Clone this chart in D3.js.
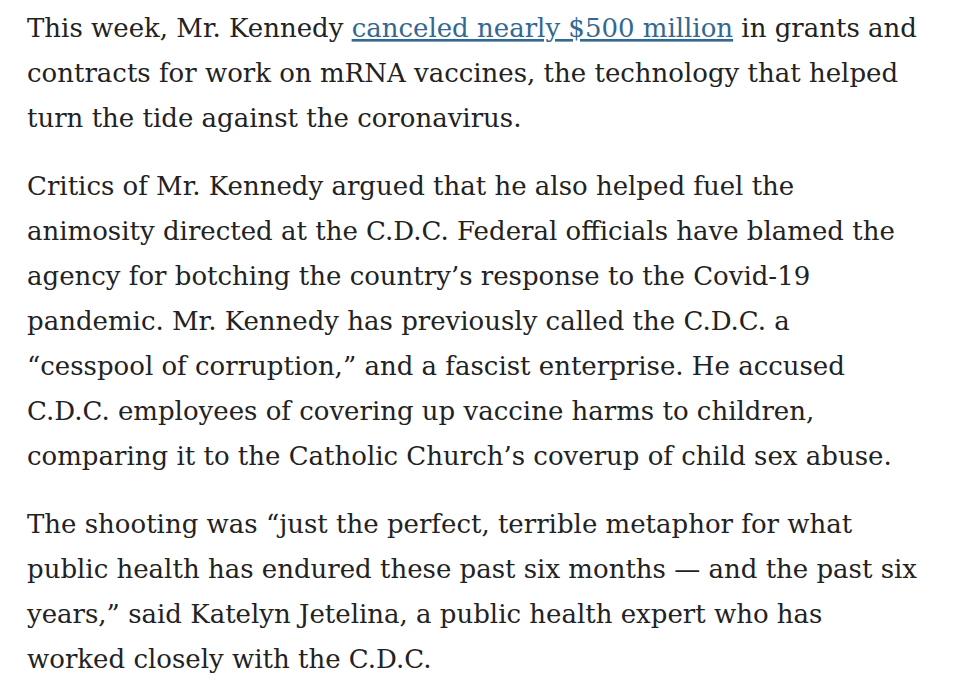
<!DOCTYPE html>
<html><head><meta charset="utf-8">
<script src="https://cdn.jsdelivr.net/npm/d3@7"></script>
<style>body{margin:0;background:#fff}</style>
</head><body>
<svg width="954" height="699"></svg>
<script>
// each line: array of [text, isLink]
const para1 = [
  [["This week, Mr. Kennedy ", false], ["canceled nearly $500 million", true], [" in grants and", false]],
  [["contracts for work on mRNA vaccines, the technology that helped", false]],
  [["turn the tide against the coronavirus.", false]]
];
const para2 = [
  [["Critics of Mr. Kennedy argued that he also helped fuel the", false]],
  [["animosity directed at the C.D.C. Federal officials have blamed the", false]],
  [["agency for botching the country\u2019s response to the Covid-19", false]],
  [["pandemic. Mr. Kennedy has previously called the C.D.C. a", false]],
  [["\u201ccesspool of corruption,\u201d and a fascist enterprise. He accused", false]],
  [["C.D.C. employees of covering up vaccine harms to children,", false]],
  [["comparing it to the Catholic Church\u2019s coverup of child sex abuse.", false]]
];
const para3 = [
  [["The shooting was \u201cjust the perfect, terrible metaphor for what", false]],
  [["public health has endured these past six months \u2014 and the past six", false]],
  [["years,\u201d said Katelyn Jetelina, a public health expert who has", false]],
  [["worked closely with the C.D.C.", false]]
];
const paragraphs = [para1, para2, para3];

const svg = d3.select("svg");
const lineH = 45, paraGap = 23, left = 27;
let y = 37;
paragraphs.forEach(p => {
  p.forEach(line => {
    const t = svg.append("text")
      .attr("x", left).attr("y", y)
      .style("font-family", "'DejaVu Serif', serif")
      .style("font-size", "26px")
      .attr("fill", "#222");
    t.selectAll("tspan").data(line).enter().append("tspan")
      .text(d => d[0])
      .attr("fill", d => d[1] ? "#326891" : "#222")
      .style("text-decoration", d => d[1] ? "underline" : null);
    y += lineH;
  });
  y += paraGap;
});
</script>
</body></html>
